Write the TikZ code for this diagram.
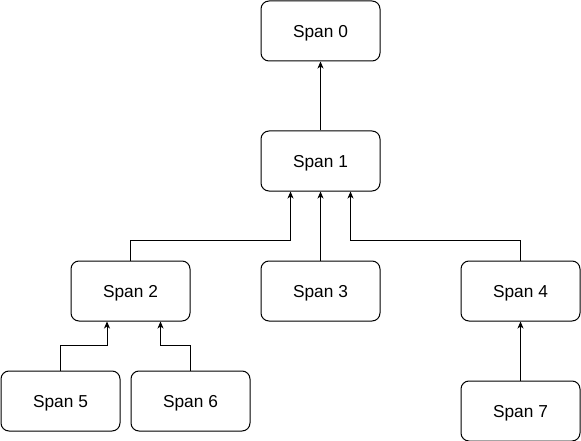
\documentclass[tikz,border=0pt]{standalone}
\usepackage{fontspec}
\setmainfont{Liberation Sans}
\usetikzlibrary{arrows.meta}
\begin{document}
\begin{tikzpicture}[x=1pt,y=-1pt,
  box/.style={draw=black,line width=1pt,rounded corners=8pt,minimum width=119pt,minimum height=60pt,inner sep=0pt,text depth=0pt,font=\fontsize{17.3}{20}\selectfont,fill=white},
  arr/.style={line width=1pt,-{Stealth[length=7pt,width=6pt,inset=2pt]}}]
\useasboundingbox (0,0) rectangle (581,441);
\node[box] (s0) at (320.5,31) {Span 0};
\node[box] (s1) at (320.5,161) {Span 1};
\node[box] (s2) at (130.5,291) {Span 2};
\node[box] (s3) at (320.5,291) {Span 3};
\node[box] (s4) at (520.5,291) {Span 4};
\node[box] (s5) at (60.5,401) {Span 5};
\node[box] (s6) at (190.5,401) {Span 6};
\node[box] (s7) at (520.5,411) {Span 7};
\draw[arr] (s1) -- (s0);
\draw[arr] (s3) -- (s1);
\draw[arr] (s2.north) -- ++(0,-20) -| ([xshift=-30pt]s1.south);
\draw[arr] (s4.north) -- ++(0,-20) -| ([xshift=30pt]s1.south);
\draw[arr] (s5.north) -- ++(0,-25) -| ([xshift=-23.5pt]s2.south);
\draw[arr] (s6.north) -- ++(0,-25) -| ([xshift=30pt]s2.south);
\draw[arr] (s7) -- (s4);
\end{tikzpicture}
\end{document}
